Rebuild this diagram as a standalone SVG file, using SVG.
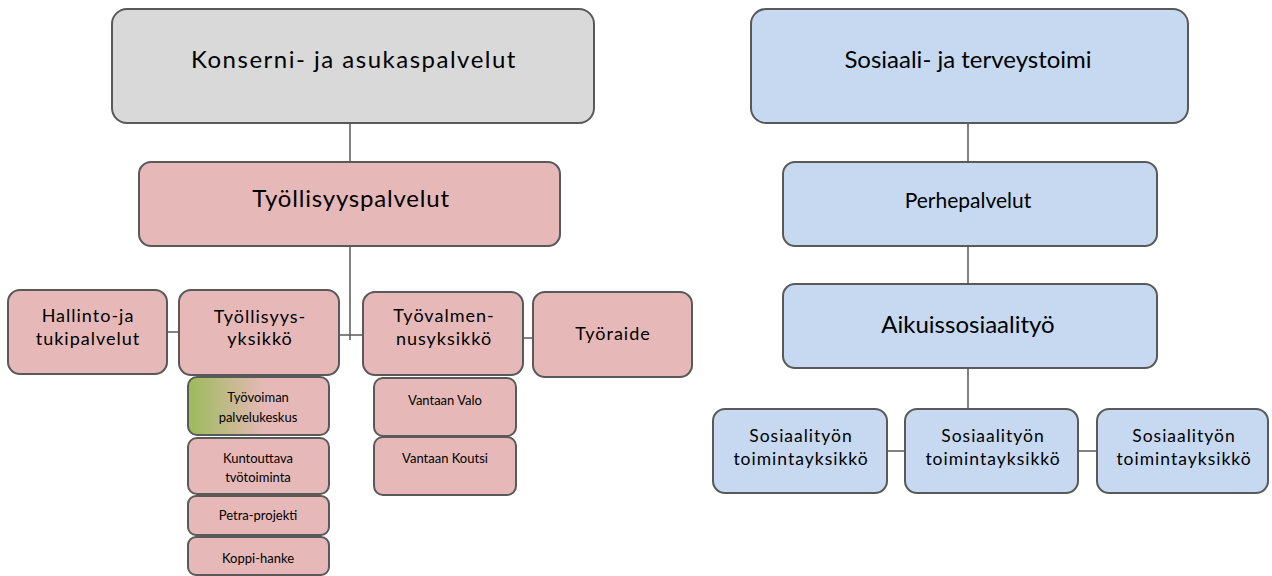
<svg xmlns="http://www.w3.org/2000/svg" width="1272" height="576" viewBox="0 0 1272 576">
<defs>
<linearGradient id="gGreen" x1="0" y1="0" x2="1" y2="0">
<stop offset="0" stop-color="#9bbb59"/>
<stop offset="0.55" stop-color="#e6b9b8"/>
<stop offset="1" stop-color="#e6b9b8"/>
</linearGradient>
<style>
.box{stroke:#595959;stroke-width:2}
.gray{fill:#d9d9d9}
.pink{fill:#e6b9b8}
.blue{fill:#c6d9f1}
.t{font-family:Lato,"Liberation Sans",sans-serif;fill:#000;text-anchor:middle}
.xl{font-size:24px}
.m{font-size:18px;letter-spacing:1px}
.ms{font-size:17.5px;letter-spacing:1px}
.s{font-size:13px}
.c{fill:none;stroke:#595959;stroke-width:1.5}
</style>
</defs>
<rect width="1272" height="576" fill="#fff"/>
<g id="connectors">
<line class="c" x1="350" y1="123" x2="350" y2="162"/>
<line class="c" x1="350" y1="246" x2="350" y2="340"/>
<line class="c" x1="167" y1="332" x2="179" y2="332"/>
<line class="c" x1="339" y1="335" x2="363" y2="335"/>
<line class="c" x1="523" y1="338" x2="533" y2="338"/>
<line class="c" x1="968" y1="123" x2="968" y2="162"/>
<line class="c" x1="968" y1="246" x2="968" y2="284"/>
<line class="c" x1="968" y1="368" x2="968" y2="409"/>
<line class="c" x1="887" y1="451" x2="905" y2="451"/>
<line class="c" x1="1078" y1="451" x2="1097" y2="451"/>
</g>
<g id="konserni"><rect class="box gray" x="112" y="9" width="482" height="114" rx="15"/><text class="t xl" x="354" y="68" style="letter-spacing:1.5px">Konserni- ja asukaspalvelut</text></g>
<g id="tyollisyyspalvelut"><rect class="box pink" x="139" y="162" width="421" height="84" rx="12"/><text class="t xl" x="351" y="207" style="letter-spacing:0.8px">Työllisyyspalvelut</text></g>
<g id="hallinto"><rect class="box pink" x="8" y="290" width="159" height="84" rx="12"/><text class="t m" x="88" y="322">Hallinto-ja</text><text class="t m" x="88" y="345">tukipalvelut</text></g>
<g id="tyollisyysyksikko"><rect class="box pink" x="179" y="290" width="160" height="85" rx="12"/><text class="t m" x="260" y="323">Työllisyys-</text><text class="t m" x="260" y="345">yksikkö</text></g>
<g id="tyovalmennus"><rect class="box pink" x="363" y="292" width="160" height="83" rx="12"/><text class="t m" x="444" y="322">Työvalmen-</text><text class="t m" x="444" y="345">nusyksikkö</text></g>
<g id="tyoraide"><rect class="box pink" x="533" y="292" width="159" height="85" rx="12"/><text class="t m" x="613" y="340">Työraide</text></g>
<g id="tyovoiman"><rect class="box" fill="url(#gGreen)" x="188" y="377" width="141" height="58" rx="9"/><text class="t s" x="258" y="402">Työvoiman</text><text class="t s" x="258" y="422">palvelukeskus</text></g>
<g id="kuntouttava"><rect class="box pink" x="188" y="438" width="141" height="56" rx="9"/><text class="t s" x="258" y="463">Kuntouttava</text><text class="t s" x="258" y="482">tvötoiminta</text></g>
<g id="petra"><rect class="box pink" x="188" y="496" width="141" height="39" rx="8"/><text class="t s" x="258" y="520">Petra-projekti</text></g>
<g id="koppi"><rect class="box pink" x="188" y="537" width="141" height="38" rx="8"/><text class="t s" x="258" y="563">Koppi-hanke</text></g>
<g id="vantaanvalo"><rect class="box pink" x="374" y="378" width="142" height="58" rx="9"/><text class="t s" x="445" y="405">Vantaan Valo</text></g>
<g id="vantaankoutsi"><rect class="box pink" x="374" y="437" width="142" height="58" rx="9"/><text class="t s" x="445" y="463">Vantaan Koutsi</text></g>
<g id="sosiaali"><rect class="box blue" x="751" y="9" width="437" height="114" rx="15"/><text class="t xl" x="968" y="68">Sosiaali- ja terveystoimi</text></g>
<g id="perhepalvelut"><rect class="box blue" x="783" y="162" width="374" height="84" rx="12"/><text class="t" x="968" y="208" style="font-size:21px">Perhepalvelut</text></g>
<g id="aikuissosiaalityo"><rect class="box blue" x="783" y="284" width="374" height="84" rx="12"/><text class="t xl" x="968" y="333">Aikuissosiaalityö</text></g>
<g id="sos1"><rect class="box blue" x="713" y="409" width="174" height="84" rx="12"/><text class="t ms" x="801" y="442">Sosiaalityön</text><text class="t ms" x="801" y="465">toimintayksikkö</text></g>
<g id="sos2"><rect class="box blue" x="905" y="409" width="173" height="84" rx="12"/><text class="t ms" x="993" y="442">Sosiaalityön</text><text class="t ms" x="993" y="465">toimintayksikkö</text></g>
<g id="sos3"><rect class="box blue" x="1097" y="409" width="171" height="84" rx="12"/><text class="t ms" x="1184" y="442">Sosiaalityön</text><text class="t ms" x="1184" y="465">toimintayksikkö</text></g>
</svg>
